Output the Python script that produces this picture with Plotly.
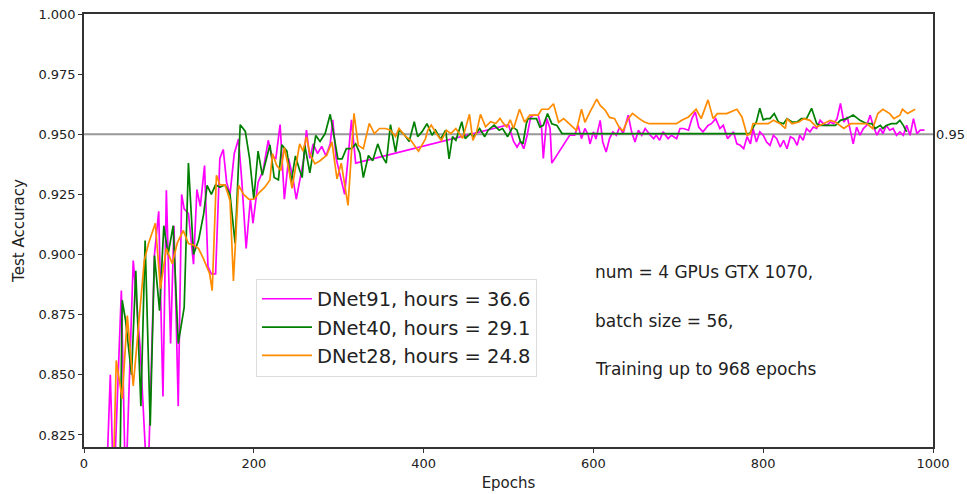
import plotly.graph_objects as go

# ---------------- data ----------------
dnet91_epochs = [26, 31, 35, 44, 49, 58, 66, 75, 83, 88, 93, 97, 102, 106, 111, 115, 118, 123, 129, 133,
                 137, 142, 146, 150, 155, 160, 164, 168, 172, 177, 182, 186, 191, 196, 199, 205, 211, 217, 221, 226,
                 231, 236, 241, 246, 250, 256, 259, 262, 266, 270, 275, 280, 285, 290, 293, 297, 302, 307, 311, 315,
                 320, 500, 506, 510, 514, 518, 522, 526, 529, 535, 539, 541, 545, 549, 551, 572, 578, 582, 586, 590,
                 594, 596, 600, 603, 608, 611, 615, 619, 623, 627, 631, 635, 641, 645, 649, 653, 657, 661, 667, 671,
                 674, 678, 682, 688, 692, 698, 702, 706, 712, 716, 720, 724, 729, 735, 739, 744, 749, 753, 758, 761,
                 765, 769, 773, 777, 781, 785, 788, 792, 796, 800, 804, 808, 812, 816, 820, 824, 828, 832, 836, 840,
                 843, 847, 851, 855, 859, 863, 867, 871, 875, 879, 883, 887, 891, 895, 899, 903, 906, 910, 914, 918,
                 922, 926, 930, 934, 938, 941, 945, 949, 953, 957, 961, 965, 969, 973, 977, 981, 985, 990]
dnet91_acc = [0.800, 0.850, 0.800, 0.885, 0.800, 0.8975, 0.862, 0.800, 0.900, 0.918, 0.841, 0.9267, 0.863, 0.912, 0.837, 0.925, 0.919, 0.917, 0.896, 0.927,
              0.920, 0.937, 0.895, 0.892, 0.892, 0.940, 0.9437, 0.930, 0.925, 0.942, 0.948, 0.930, 0.9025, 0.923, 0.913, 0.930, 0.935, 0.9475, 0.941, 0.940,
              0.954, 0.923, 0.940, 0.932, 0.923, 0.935, 0.940, 0.9517, 0.940, 0.946, 0.942, 0.945, 0.941, 0.946, 0.956, 0.940, 0.932, 0.925, 0.940, 0.956,
              0.938, 0.954, 0.947, 0.9447, 0.947, 0.944, 0.9496, 0.957, 0.9579, 0.9579, 0.9524, 0.940, 0.9565, 0.9524, 0.938, 0.9496, 0.9496, 0.9537, 0.9482, 0.9524,
              0.9496, 0.946, 0.951, 0.948, 0.9558, 0.9468, 0.9426, 0.9482, 0.951, 0.9496, 0.953, 0.9503, 0.9579, 0.951, 0.9468, 0.9517, 0.9496, 0.9524, 0.9496, 0.9482,
              0.9496, 0.9475, 0.951, 0.9482, 0.9496, 0.9482, 0.9524, 0.9524, 0.9517, 0.9565, 0.9593, 0.953, 0.951, 0.9537, 0.9544, 0.9565, 0.9524, 0.9537, 0.9482, 0.9496,
              0.951, 0.946, 0.9454, 0.944, 0.949, 0.946, 0.9524, 0.9468, 0.951, 0.9496, 0.9468, 0.9454, 0.9496, 0.9482, 0.9447, 0.9475, 0.944, 0.949, 0.9482, 0.9454,
              0.9496, 0.9475, 0.9524, 0.951, 0.953, 0.9524, 0.9558, 0.9544, 0.9537, 0.9551, 0.9544, 0.9565, 0.9628, 0.9551, 0.9572, 0.951, 0.946, 0.953, 0.9496, 0.9524,
              0.9537, 0.9579, 0.953, 0.9496, 0.9524, 0.9503, 0.9537, 0.9517, 0.9524, 0.9496, 0.951, 0.9496, 0.9537, 0.9496, 0.9565, 0.9503, 0.9517, 0.9517]

dnet40_epochs = [42, 45, 49, 56, 61, 67, 72, 78, 83, 89, 94, 99, 105, 111, 118, 123, 129, 135, 141, 145,
                 150, 155, 160, 166, 172, 178, 184, 190, 195, 200, 205, 210, 215, 219, 224, 229, 233, 239, 244, 249,
                 254, 257, 260, 266, 273, 278, 284, 290, 294, 299, 304, 309, 315, 320, 325, 329, 335, 340, 346, 351,
                 356, 361, 367, 371, 377, 383, 389, 393, 398, 404, 410, 414, 420, 426, 430, 434, 438, 445, 449, 455,
                 459, 466, 472, 476, 483, 489, 493, 499, 505, 510, 514, 517, 521, 523, 533, 537, 541, 546, 551, 557,
                 563, 784, 792, 796, 800, 804, 808, 813, 818, 824, 828, 834, 840, 845, 851, 857, 863, 867, 875, 885,
                 891, 898, 906, 914, 922, 928, 932, 938, 941, 945, 951, 957, 961, 965, 969]
dnet40_acc = [0.800, 0.881, 0.8725, 0.850, 0.8933, 0.837, 0.9058, 0.8288, 0.8996, 0.8767, 0.912, 0.900, 0.912, 0.863, 0.878, 0.938, 0.900, 0.906, 0.917, 0.9288,
              0.925, 0.929, 0.928, 0.929, 0.925, 0.9046, 0.954, 0.9512, 0.940, 0.923, 0.943, 0.933, 0.940, 0.9456, 0.932, 0.931, 0.9456, 0.943, 0.930, 0.941,
              0.935, 0.932, 0.9455, 0.934, 0.9495, 0.947, 0.9503, 0.9583, 0.9503, 0.9398, 0.9398, 0.944, 0.944, 0.946, 0.942, 0.932, 0.9412, 0.939, 0.946, 0.941,
              0.938, 0.954, 0.9426, 0.9517, 0.950, 0.947, 0.9552, 0.949, 0.951, 0.9544, 0.9496, 0.9517, 0.948, 0.9517, 0.9398, 0.949, 0.9475, 0.9552, 0.9482, 0.9503,
              0.949, 0.9524, 0.949, 0.9517, 0.9538, 0.9517, 0.9524, 0.949, 0.953, 0.9517, 0.947, 0.946, 0.9544, 0.9565, 0.9565, 0.953, 0.9537, 0.9586, 0.9544, 0.9537,
              0.9503, 0.9503, 0.9552, 0.9608, 0.956, 0.9565, 0.9565, 0.9586, 0.9551, 0.9544, 0.9565, 0.9551, 0.9551, 0.9565, 0.9565, 0.9608, 0.9544, 0.9537, 0.9537, 0.9537,
              0.9558, 0.9565, 0.958, 0.9558, 0.9544, 0.9544, 0.9524, 0.9537, 0.9524, 0.9537, 0.9544, 0.9544, 0.9558, 0.9537, 0.951]

dnet28_epochs = [34, 38, 45, 51, 58, 64, 71, 76, 84, 90, 97, 104, 110, 117, 123, 129, 135, 141, 144, 148,
                 151, 156, 160, 166, 172, 176, 182, 188, 194, 200, 207, 213, 219, 222, 227, 232, 236, 241, 245, 250,
                 254, 258, 262, 266, 272, 278, 286, 292, 298, 303, 311, 318, 323, 329, 336, 342, 348, 355, 361, 367,
                 371, 379, 385, 394, 402, 405, 409, 415, 421, 427, 432, 438, 446, 454, 458, 462, 467, 473, 479, 485,
                 490, 494, 498, 502, 506, 513, 519, 525, 535, 539, 547, 553, 559, 565, 570, 576, 580, 586, 590, 596,
                 604, 608, 614, 619, 625, 631, 635, 641, 646, 654, 660, 666, 674, 682, 690, 698, 704, 712, 721, 727,
                 735, 741, 746, 757, 769, 775, 781, 785, 788, 796, 806, 812, 820, 826, 828, 834, 842, 848, 855, 863,
                 871, 879, 885, 895, 903, 912, 922, 929, 935, 941, 949, 954, 961, 964, 970, 979]
dnet28_acc = [0.800, 0.856, 0.840, 0.8746, 0.8454, 0.868, 0.8975, 0.9046, 0.913, 0.8858, 0.9025, 0.8962, 0.905, 0.910, 0.9046, 0.904, 0.9025, 0.898, 0.8954, 0.892,
              0.885, 0.933, 0.929, 0.929, 0.9225, 0.889, 0.9288, 0.925, 0.923, 0.923, 0.926, 0.928, 0.931, 0.942, 0.937, 0.935, 0.9445, 0.936, 0.9275, 0.9375,
              0.946, 0.943, 0.949, 0.9419, 0.9377, 0.939, 0.9413, 0.9468, 0.9315, 0.938, 0.9204, 0.9587, 0.9454, 0.944, 0.9545, 0.9503, 0.9524, 0.9524, 0.9517, 0.949,
              0.9524, 0.949, 0.9475, 0.943, 0.948, 0.9517, 0.9538, 0.9503, 0.9475, 0.9517, 0.9503, 0.9524, 0.9483, 0.9583, 0.9475, 0.9503, 0.9583, 0.9531, 0.9552, 0.9545,
              0.9566, 0.9545, 0.953, 0.956, 0.9524, 0.9604, 0.955, 0.958, 0.958, 0.9604, 0.9604, 0.9627, 0.955, 0.9565, 0.955, 0.9528, 0.9516, 0.9604, 0.955, 0.9593,
              0.9646, 0.962, 0.960, 0.957, 0.9565, 0.9524, 0.9516, 0.9565, 0.9587, 0.9565, 0.9551, 0.9544, 0.9544, 0.9544, 0.9544, 0.9544, 0.9558, 0.9572, 0.9604, 0.9565,
              0.9643, 0.9565, 0.9586, 0.9586, 0.9604, 0.9572, 0.9496, 0.9503, 0.9544, 0.9544, 0.9544, 0.9558, 0.9544, 0.9524, 0.9565, 0.9544, 0.9551, 0.9565, 0.9558, 0.953,
              0.9544, 0.9558, 0.9551, 0.9524, 0.9544, 0.9544, 0.9544, 0.9524, 0.9586, 0.9604, 0.9586, 0.9565, 0.9579, 0.9604, 0.9586, 0.9604]

series_names = ["DNet91, hours = 36.6", "DNet40, hours = 29.1", "DNet28, hours = 24.8"]
threshold = 0.95
info_lines = ["num = 4 GPUs GTX 1070,", "batch size = 56,", "Training up to 968 epochs"]
info_x = 600
info_y = [0.8929, 0.8725, 0.8525]
x_ticks = [0, 200, 400, 600, 800, 1000]
y_ticks = [0.825, 0.85, 0.875, 0.9, 0.925, 0.95, 0.975, 1.0]

# ---------------- figure ----------------
FONT = "DejaVu Sans"
colors = ["#ff00ff", "#008000", "#ff8c00"]
fig = go.Figure()
for i, (xs, ys) in enumerate([(dnet91_epochs, dnet91_acc), (dnet40_epochs, dnet40_acc), (dnet28_epochs, dnet28_acc)]):
    fig.add_trace(go.Scatter(x=xs, y=ys, mode="lines", name=series_names[i],
                             legendgroup=f"g{i}",
                             line=dict(color=colors[i], width=1.7)))

fig.add_shape(type="line", xref="paper", yref="y", x0=0, x1=1, y0=threshold, y1=threshold,
              line=dict(color="#999999", width=2), layer="below")
fig.add_annotation(xref="paper", yref="y", x=1.0, y=threshold, xanchor="left", yanchor="middle",
                   xshift=1, text="0.95", showarrow=False, font=dict(family=FONT, size=13, color="#222"))

for t, yv in zip(info_lines, info_y):
    fig.add_annotation(x=info_x, y=yv, xref="x", yref="y", text=t, showarrow=False,
                       xanchor="left", yanchor="middle", font=dict(family=FONT, size=17, color="#222"))

axis_common = dict(showline=True, linecolor="#333333", linewidth=1.5, mirror=True,
                   ticks="outside", ticklen=4, tickwidth=1.2, tickcolor="#333333",
                   showgrid=False, zeroline=False, automargin=False,
                   tickfont=dict(family=FONT, size=13, color="#222"))

fig.update_xaxes(range=[0, 1000], tickvals=x_ticks, ticktext=[str(v) for v in x_ticks],
                 title=dict(text="Epochs", font=dict(family=FONT, size=15, color="#222"), standoff=7),
                 **axis_common)
fig.update_yaxes(range=[0.82, 1.0], tickvals=y_ticks, ticktext=[f"{v:.3f}" for v in y_ticks],
                 title=dict(text="Test Accuracy", font=dict(family=FONT, size=15, color="#222"), standoff=10),
                 **axis_common)

fig.update_layout(
    width=967, height=494,
    margin=dict(l=84, r=34, t=14, b=47, autoexpand=False),
    plot_bgcolor="white", paper_bgcolor="white",
    legend=dict(x=0.2026, y=0.389, xanchor="left", yanchor="top",
                font=dict(family=FONT, size=19.5, color="#222"),
                bgcolor="rgba(255,255,255,0.8)", bordercolor="#dddddd", borderwidth=1,
                tracegroupgap=0, traceorder="grouped", itemwidth=50),
    showlegend=True,
)

fig.write_html("out.html")
